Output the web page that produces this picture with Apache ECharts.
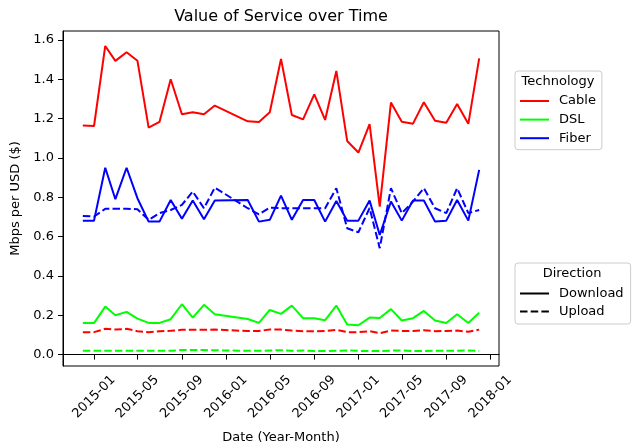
<!DOCTYPE html>
<html>
<head>
<meta charset="utf-8">
<script src="https://cdn.jsdelivr.net/npm/echarts@6/dist/echarts.min.js"></script>
<style>
  html, body { margin: 0; padding: 0; background: #fff; }
  #chart { width: 635px; height: 447px; }
</style>
</head>
<body>
<div id="chart"></div>
<script>
// monthly samples (Jan/Feb 2016 absent)
var months = ['2014-12','2015-01','2015-02','2015-03','2015-04','2015-05','2015-06','2015-07','2015-08','2015-09','2015-10','2015-11','2015-12',
  '2016-03','2016-04','2016-05','2016-06','2016-07','2016-08','2016-09','2016-10','2016-11','2016-12',
  '2017-01','2017-02','2017-03','2017-04','2017-05','2017-06','2017-07','2017-08','2017-09','2017-10','2017-11','2017-12'];

var cableDown = [1.164,1.162,1.569,1.493,1.537,1.494,1.154,1.183,1.400,1.222,1.232,1.222,1.266,
  1.186,1.183,1.232,1.503,1.218,1.196,1.323,1.193,1.442,1.086,
  1.027,1.171,0.752,1.281,1.184,1.174,1.283,1.189,1.179,1.274,1.173,1.506];
var cableUp = [0.114,0.114,0.131,0.127,0.131,0.119,0.114,0.119,0.121,0.126,0.126,0.126,0.127,
  0.120,0.120,0.127,0.127,0.122,0.119,0.119,0.120,0.126,0.114,
  0.114,0.119,0.109,0.122,0.120,0.120,0.124,0.119,0.120,0.122,0.116,0.127];
var dslDown = [0.160,0.160,0.244,0.200,0.217,0.183,0.161,0.161,0.180,0.256,0.188,0.253,0.205,
  0.181,0.161,0.227,0.207,0.249,0.185,0.185,0.175,0.249,0.153,
  0.149,0.188,0.186,0.231,0.173,0.185,0.222,0.173,0.161,0.205,0.161,0.213];
var dslUp = [0.019,0.019,0.019,0.019,0.019,0.019,0.019,0.019,0.019,0.023,0.023,0.023,0.022,
  0.019,0.019,0.021,0.022,0.019,0.021,0.018,0.018,0.019,0.021,
  0.019,0.018,0.018,0.020,0.021,0.018,0.018,0.020,0.019,0.019,0.021,0.018];
var fiberDown = [0.681,0.681,0.950,0.790,0.950,0.795,0.676,0.676,0.786,0.690,0.783,0.688,0.783,
  0.786,0.676,0.685,0.808,0.685,0.786,0.786,0.676,0.781,0.681,
  0.681,0.783,0.608,0.778,0.681,0.783,0.783,0.676,0.681,0.786,0.681,0.939];
var fiberUp = [0.705,0.702,0.741,0.741,0.741,0.739,0.685,0.719,0.735,0.761,0.829,0.744,0.849,
  0.744,0.713,0.747,0.744,0.744,0.744,0.744,0.744,0.846,0.642,
  0.622,0.745,0.541,0.846,0.719,0.778,0.846,0.744,0.719,0.846,0.719,0.735];

var xTicks = ['2015-01','2015-05','2015-09','2016-01','2016-05','2016-09','2017-01','2017-05','2017-09','2018-01'];
var yTicks = [0, 0.2, 0.4, 0.6, 0.8, 1.0, 1.2, 1.4, 1.6];

function ts(s) {
    var p = s.split('-');
    return new Date(+p[0], +p[1] - 1, 1).getTime();
}
function pad2(n) { return (n < 10 ? '0' : '') + n; }
function pairs(vals) {
    return months.map(function (m, i) { return [ts(m), vals[i]]; });
}

var t0 = ts(months[0]), t1 = ts(months[months.length - 1]);
var span = t1 - t0;
var FONT = 'DejaVu Sans';
var dash = [7.5, 3.2];

function line(name, vals, color, dashed) {
    return {
        name: name,
        type: 'line',
        symbol: 'none',
        animation: false,
        color: color,
        lineStyle: { width: 2, color: color, type: dashed ? dash : 'solid' },
        data: vals ? pairs(vals) : []
    };
}

var legendBase = {
    orient: 'vertical', left: 515,
    itemWidth: 29, itemHeight: 14,
    borderColor: '#cccccc', borderWidth: 1, borderRadius: 3, backgroundColor: 'rgba(255,255,255,0.8)',
    selectedMode: false,
    itemStyle: { opacity: 0 },
    lineStyle: { opacity: 1 },
    textStyle: { fontFamily: FONT, fontSize: 13, color: '#000', padding: [0, 0, 0, 5] }
};

var chart = echarts.init(document.getElementById('chart'));
var option = {
    backgroundColor: '#fff',
    animation: false,
    textStyle: { fontFamily: FONT },
    title: [
        { text: 'Value of Service over Time', left: 281, top: 9, textAlign: 'center', padding: 0,
          textStyle: { fontFamily: FONT, fontSize: 16, fontWeight: 'normal', color: '#000' } },
        { text: 'Technology', left: 558, top: 75, textAlign: 'center', padding: 0,
          textStyle: { fontFamily: FONT, fontSize: 13, fontWeight: 'normal', color: '#000' } },
        { text: 'Direction', left: 572, top: 267, textAlign: 'center', padding: 0,
          textStyle: { fontFamily: FONT, fontSize: 13, fontWeight: 'normal', color: '#000' } }
    ],
    legend: [
        Object.assign({}, legendBase, { data: ['Cable', 'DSL', 'Fiber'], top: 71,
          itemGap: 5.6, padding: [23.5, 6, 5, 4] }),
        Object.assign({}, legendBase, { data: ['Download', 'Upload'], top: 263,
          itemGap: 5, padding: [24, 7, 6, 4] })
    ],
    grid: { left: 63, right: 136, top: 31, bottom: 81, show: true, borderColor: '#000', borderWidth: 1,
            containLabel: false, outerBoundsMode: 'none' },
    xAxis: {
        type: 'value',
        min: t0 - 0.05 * span,
        max: t1 + 0.05 * span,
        name: 'Date (Year-Month)',
        nameLocation: 'middle',
        nameGap: 65,
        nameTextStyle: { fontFamily: FONT, fontSize: 13, color: '#000' },
        splitLine: { show: false },
        axisLine: { lineStyle: { color: '#000', width: 1 } },
        axisTick: { show: true, length: 5, lineStyle: { color: '#000' }, customValues: xTicks.map(ts) },
        axisLabel: {
            customValues: xTicks.map(ts),
            rotate: 45, align: 'center', verticalAlign: 'middle', margin: 31,
            fontFamily: FONT, fontSize: 13, color: '#000',
            formatter: function (v) {
                var d = new Date(v);
                return d.getFullYear() + '-' + pad2(d.getMonth() + 1);
            }
        }
    },
    yAxis: {
        type: 'value',
        min: -0.058,
        max: 1.645,
        name: 'Mbps per USD ($)',
        nameLocation: 'middle',
        nameGap: 38,
        nameTextStyle: { fontFamily: FONT, fontSize: 13, color: '#000' },
        splitLine: { show: false },
        axisLine: { show: true, lineStyle: { color: '#000', width: 1 } },
        axisTick: { show: true, length: 5, lineStyle: { color: '#000' }, customValues: yTicks },
        axisLabel: {
            customValues: yTicks, margin: 9,
            fontFamily: FONT, fontSize: 13, color: '#000',
            formatter: function (v) { return v.toFixed(1); }
        }
    },
    series: [
        line('Cable', cableDown, '#ff0000', false),
        line('Cable', cableUp, '#ff0000', true),
        line('DSL', dslDown, '#00ff00', false),
        line('DSL', dslUp, '#00ff00', true),
        line('Fiber', fiberDown, '#0000ff', false),
        line('Fiber', fiberUp, '#0000ff', true),
        line('Download', null, '#000000', false),
        line('Upload', null, '#000000', true)
    ]
};
chart.setOption(option);
</script>
</body>
</html>
